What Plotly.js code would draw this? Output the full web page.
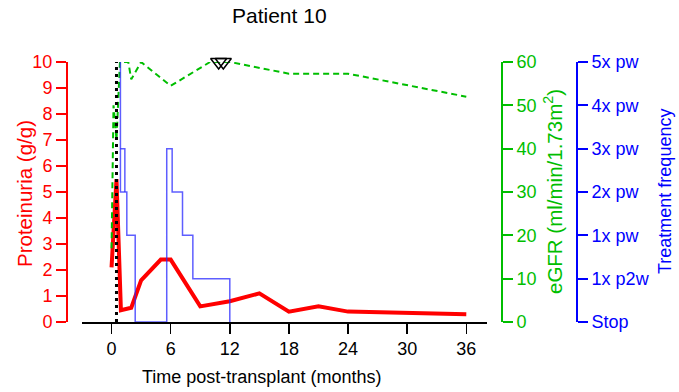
<!DOCTYPE html>
<html>
<head>
<meta charset="utf-8">
<script src="https://cdn.plot.ly/plotly-3.0.1.min.js"></script>
<style>html,body{margin:0;padding:0;background:#fff;}#chart{width:679px;height:392px;}</style>
</head>
<body>
<div id="chart"></div>
<script>
// Proteinuria (g/g)
const protMonths = [0, 0.5, 0.95, 2, 3, 5, 6, 9, 12, 15, 18, 21, 24, 36];
const protValues = [2.1, 5.5, 0.45, 0.55, 1.6, 2.4, 2.4, 0.6, 0.8, 1.1, 0.4, 0.6, 0.4, 0.3];
// eGFR (ml/min/1.73m2)
const egfrMonths = [0, 0.2, 0.5, 0.85, 1.7, 2.0, 3.0, 6.0, 10, 12, 18, 24, 36];
const egfrValues = [17, 50, 42, 60, 60, 56, 60, 54.5, 60, 60, 57.3, 57.3, 52];
// Treatment frequency (0 = Stop ... 6 = 5x pw)
const treatMonths = [0.9, 0.9, 1.55, 1.55, 2.4, 2.4, 5.6, 5.6, 6.15, 6.15, 7.2, 7.2, 8.25, 8.25, 12, 12, null, 0.9, 1.35, 1.35];
const treatLevels = [6, 3, 3, 2, 2, 0, 0, 4, 4, 3, 3, 2, 2, 1, 1, 0, null, 4, 4, 3];
const treatLabels = ["Stop", "1x p2w", "1x pw", "2x pw", "3x pw", "4x pw", "5x pw"];
// Events
const markerMonths = [10.87, 11.34];
const markerEgfr = [60, 60];
const eventMonth = 0.5;
const xTicks = [0, 6, 12, 18, 24, 30, 36];

const RED = 'rgb(255,0,0)';
const GREEN = 'rgb(0,190,0)';
const BLUE = 'rgb(0,0,255)';
const FONT = 'Liberation Sans, Arial, sans-serif';

const traces = [
  {x: egfrMonths, y: egfrValues, yaxis: 'y2', mode: 'lines',
   line: {color: GREEN, width: 2, dash: '6px,4px'}, hoverinfo: 'skip'},
  {x: treatMonths, y: treatLevels, yaxis: 'y3', mode: 'lines', connectgaps: false,
   line: {color: 'rgba(40,40,255,0.75)', width: 1.5}, hoverinfo: 'skip'},
  {x: protMonths, y: protValues, yaxis: 'y', mode: 'lines',
   line: {color: RED, width: 4}, hoverinfo: 'skip'},
  {x: markerMonths, y: markerEgfr, yaxis: 'y2', mode: 'markers', cliponaxis: false,
   marker: {symbol: 'triangle-down-open', size: 14, color: 'black', line: {width: 1.5, color: 'black'}}, hoverinfo: 'skip'}
];

const axisCommon = {showgrid: false, zeroline: false, showline: true, ticks: 'outside',
  ticklen: 10, tickwidth: 2, linewidth: 2, tickfont: {size: 18, family: FONT}, automargin: false, fixedrange: true};

const layout = {
  width: 679, height: 392,
  margin: {l: 67, r: 102, t: 62, b: 70},
  paper_bgcolor: 'white', plot_bgcolor: 'white',
  showlegend: false,
  font: {family: FONT, size: 18, color: 'black'},
  xaxis: Object.assign({}, axisCommon, {
    domain: [0.0294, 0.8235], range: [-3, 38.1], tickvals: xTicks,
    color: 'black', linecolor: 'black', tickcolor: 'black', linewidth: 1.5, tickwidth: 1.5, anchor: 'y'
  }),
  yaxis: Object.assign({}, axisCommon, {
    range: [0, 10], dtick: 1, anchor: 'free', position: 0, side: 'left',
    color: RED, linecolor: RED, tickcolor: RED, tickfont: {size: 18, family: FONT, color: RED}
  }),
  yaxis2: Object.assign({}, axisCommon, {
    range: [0, 60], dtick: 10, overlaying: 'y', anchor: 'free', position: 0.8529, side: 'right',
    color: GREEN, linecolor: GREEN, tickcolor: GREEN, tickfont: {size: 18, family: FONT, color: GREEN}
  }),
  yaxis3: Object.assign({}, axisCommon, {
    range: [0, 6], tickvals: [0, 1, 2, 3, 4, 5, 6], ticktext: treatLabels, overlaying: 'y', anchor: 'free', position: 1, side: 'right',
    color: BLUE, linecolor: BLUE, tickcolor: BLUE, tickfont: {size: 18, family: FONT, color: BLUE}
  }),
  shapes: [
    {type: 'line', xref: 'x', yref: 'paper', x0: eventMonth, x1: eventMonth, y0: 0, y1: 1,
     line: {color: 'black', width: 3, dash: '3px,4px'}, layer: 'above'}
  ],
  annotations: [
    {text: 'Patient 10', xref: 'paper', yref: 'paper', x: (279 - 67) / 510, y: 1, yshift: 62 - 15.5, showarrow: false,
     xanchor: 'center', yanchor: 'middle', font: {size: 21, color: 'black', family: FONT}},
    {text: 'Time post-transplant (months)', xref: 'paper', yref: 'paper', x: (261 - 67) / 510, y: 0, yshift: -55,
     showarrow: false, xanchor: 'center', yanchor: 'middle', font: {size: 18, color: 'black', family: FONT}},
    {text: 'Proteinuria (g/g)', xref: 'paper', yref: 'paper', x: (24 - 67) / 510, y: 0.5, yshift: -2, textangle: -90,
     showarrow: false, xanchor: 'center', yanchor: 'middle', font: {size: 20.5, color: RED, family: FONT}},
    {text: 'eGFR (ml/min/1.73m<sup>2</sup>)', xref: 'paper', yref: 'paper', x: (553 - 67) / 510, y: 0.5, textangle: -90,
     showarrow: false, xanchor: 'center', yanchor: 'middle', font: {size: 20.5, color: GREEN, family: FONT}},
    {text: 'Treatment frequency', xref: 'paper', yref: 'paper', x: (665 - 67) / 510, y: 0.5, textangle: -90,
     showarrow: false, xanchor: 'center', yanchor: 'middle', font: {size: 18, color: BLUE, family: FONT}}
  ]
};

Plotly.newPlot('chart', traces, layout, {staticPlot: true, displayModeBar: false});
</script>
</body>
</html>
